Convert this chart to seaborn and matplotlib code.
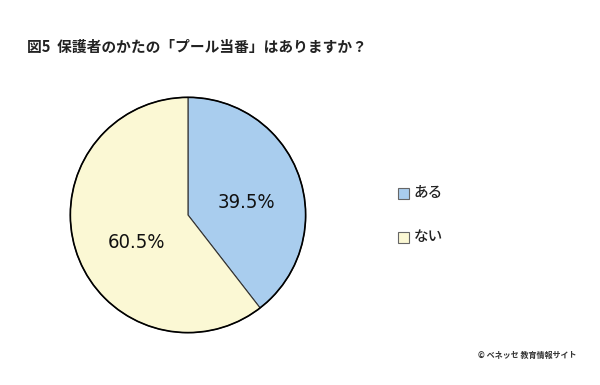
import matplotlib
matplotlib.use("Agg")
import matplotlib.pyplot as plt
import seaborn as sns
from matplotlib.patches import Rectangle, Circle
from matplotlib import font_manager

# data
labels = ["ある", "ない"]
values = [39.5, 60.5]
pct_labels = ["39.5%", "60.5%"]
title = "図5  保護者のかたの「プール当番」はありますか？"
credit = "© ベネッセ 教育情報サイト"

sns.set_theme(style="white")
plt.rcParams['font.family'] = ['Noto Sans CJK JP', 'DejaVu Sans']
colors = sns.color_palette(["#A9CDEE", "#FBF8D4"])

# look for a condensed face for the numbers
cond = [f.name for f in font_manager.fontManager.ttflist
        if "Narrow" in f.name or "Condensed" in f.name or f.stretch in ("condensed", 500)]
num_font = [cond[0]] if cond else ['Liberation Sans']

fig = plt.figure(figsize=(6, 3.85), dpi=100)
fig.patch.set_facecolor("white")

ax = fig.add_axes([0.1133, 0.1299, 0.4, 0.6234])
wedges, _ = ax.pie(values, colors=colors, startangle=90, counterclock=False,
                   wedgeprops=dict(edgecolor="#333333", linewidth=0.8))
ax.add_patch(Circle((0, 0), 1.0, fill=False, edgecolor="black", linewidth=1.2))
ax.set_aspect("equal")
ax.set_xlim(-1.02, 1.02)
ax.set_ylim(-1.02, 1.02)

# percent labels
ax.text(0.50, 0.11, pct_labels[0], ha="center", va="center", fontsize=14.5,
        family=num_font, fontstretch="condensed", color="#111111")
ax.text(-0.44, -0.235, pct_labels[1], ha="center", va="center", fontsize=14.5,
        family=num_font, fontstretch="condensed", color="#111111")

# title
fig.text(27 / 600, 1 - 47 / 385, title, fontsize=10.6, fontweight="bold",
         va="center", ha="left", color="#222222")

# legend
for i, (lab, y) in enumerate(zip(labels, [193, 237])):
    fig.patches.append(Rectangle((398 / 600, 1 - (y + 5.5) / 385), 11 / 600, 11 / 385,
                                 transform=fig.transFigure, facecolor=colors[i],
                                 edgecolor="#666666", linewidth=0.8))
    fig.text(414 / 600, 1 - y / 385, lab, fontsize=10.5, fontweight="medium",
             va="center", ha="left", color="#222222")

fig.text(478 / 600, 1 - 355 / 385, credit, fontsize=5.8, fontweight="bold",
         va="center", ha="left", color="#333333")

fig.savefig("out.png", dpi=100, facecolor="white")
